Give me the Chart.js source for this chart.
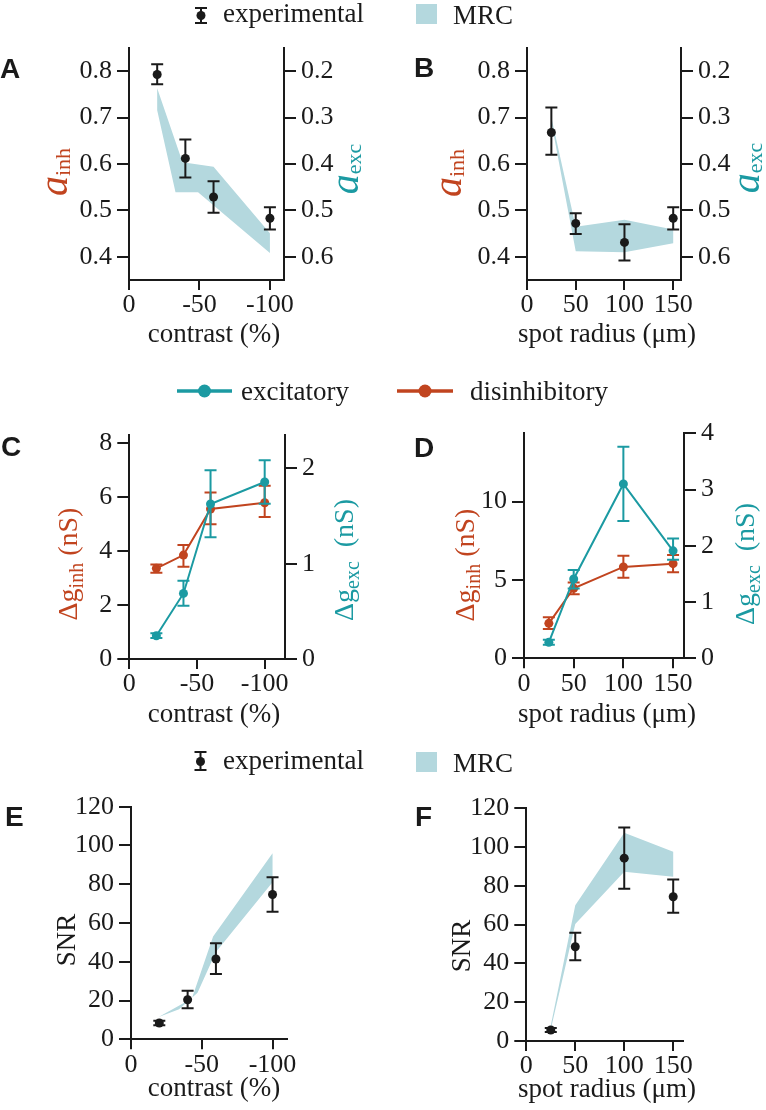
<!DOCTYPE html>
<html lang="en">
<head>
<meta charset="UTF-8">
<title>Inhibition weights, conductances and SNR</title>
<script src="https://cdn.jsdelivr.net/npm/chart.js"></script>
<style>
  body { margin: 0; background: #fff; }
  #fig { position: relative; width: 766px; height: 1110px; overflow: hidden; }
  #fig canvas { position: absolute; }
  #overlay { position: absolute; left: 0; top: 0; }
</style>
</head>
<body>
<div id="fig">
  <canvas id="panelA"></canvas>
  <canvas id="panelB"></canvas>
  <canvas id="panelC"></canvas>
  <canvas id="panelD"></canvas>
  <canvas id="panelE"></canvas>
  <canvas id="panelF"></canvas>
  <svg id="overlay" width="766" height="1110" font-family="'Liberation Serif', 'Times New Roman', serif" font-size="27" fill="#1a1a1a">
    <!-- top legend -->
    <g stroke="#1a1a1a" stroke-width="2">
      <line x1="201" y1="8" x2="201" y2="23"/><line x1="195" y1="8" x2="207" y2="8"/><line x1="195" y1="23" x2="207" y2="23"/>
    </g>
    <circle cx="201" cy="15.5" r="4.5"/>
    <text x="223" y="22">experimental</text>
    <rect x="416" y="4" width="21" height="20" fill="#b4d8de"/>
    <text x="453" y="24">MRC</text>
    <!-- middle legend -->
    <line x1="177" y1="391" x2="232" y2="391" stroke="#1b9aa2" stroke-width="3.5"/>
    <circle cx="204.5" cy="391" r="6.5" fill="#1b9aa2"/>
    <text x="241" y="400">excitatory</text>
    <line x1="397" y1="391" x2="453" y2="391" stroke="#c1441f" stroke-width="3.5"/>
    <circle cx="425" cy="391" r="6.5" fill="#c1441f"/>
    <text x="470" y="400">disinhibitory</text>
    <!-- bottom legend -->
    <g stroke="#1a1a1a" stroke-width="2">
      <line x1="200.5" y1="752" x2="200.5" y2="770"/><line x1="194.5" y1="752" x2="206.5" y2="752"/><line x1="194.5" y1="770" x2="206.5" y2="770"/>
    </g>
    <circle cx="200.5" cy="761.5" r="4.5"/>
    <text x="223" y="769">experimental</text>
    <rect x="416" y="752" width="21" height="20" fill="#b4d8de"/>
    <text x="453" y="772">MRC</text>
    <!-- panel letters -->
    <g font-family="'Liberation Sans', Arial, sans-serif" font-weight="bold" font-size="28">
      <text x="0" y="78">A</text>
      <text x="414" y="77">B</text>
      <text x="1" y="456">C</text>
      <text x="414" y="457">D</text>
      <text x="5" y="826">E</text>
      <text x="415" y="826">F</text>
    </g>
  </svg>
</div>
<script>
const RED = '#c1441f', TEAL = '#1b9aa2', BAND = '#b4d8de', INK = '#1a1a1a';
const SERIF = '"Liberation Serif", "Times New Roman", serif';
Chart.defaults.font.family = SERIF;
Chart.defaults.color = INK;

// stimulus conditions
const contrast = [-20, -40, -60, -100];
const radius = [25, 50, 100, 150];
const contrastTicks = [0, -50, -100];
const radiusTicks = [0, 50, 100, 150];

// A: a_inh vs contrast (experimental mean, lower, upper)
const aInhContrast = [0.793, 0.612, 0.529, 0.483];
const aInhContrastLo = [0.772, 0.571, 0.495, 0.459];
const aInhContrastHi = [0.815, 0.653, 0.563, 0.507];
// A: MRC band edges
const mrcAUpperX = [-20, -38, -60, -100];
const mrcAUpper = [0.763, 0.604, 0.594, 0.451];
const mrcALowerX = [-20, -33, -49, -100];
const mrcALower = [0.716, 0.539, 0.539, 0.408];

// B: a_inh vs spot radius
const aInhRadius = [0.668, 0.472, 0.431, 0.483];
const aInhRadiusLo = [0.620, 0.449, 0.392, 0.459];
const aInhRadiusHi = [0.722, 0.494, 0.470, 0.507];
const mrcBUpperX = [25, 50, 100, 150];
const mrcBUpper = [0.700, 0.465, 0.480, 0.459];
const mrcBLowerX = [25, 50, 100, 150];
const mrcBLower = [0.690, 0.412, 0.410, 0.429];

const aInhTicks = [0.4, 0.5, 0.6, 0.7, 0.8];
const aExcTicks = [0.2, 0.3, 0.4, 0.5, 0.6];

// C: conductance changes vs contrast
const gInhContrast = [3.36, 3.85, 5.56, 5.79];
const gInhContrastLo = [3.20, 3.42, 4.99, 5.26];
const gInhContrastHi = [3.50, 4.22, 6.17, 6.42];
const gExcContrast = [0.244, 0.688, 1.626, 1.857];
const gExcContrastLo = [0.22, 0.558, 1.277, 1.63];
const gExcContrastHi = [0.27, 0.82, 1.98, 2.084];
const gInhTicksC = [0, 2, 4, 6, 8];
const gExcTicksC = [0, 1, 2];

// D: conductance changes vs spot radius
const gInhRadius = [2.23, 4.47, 5.83, 6.04];
const gInhRadiusLo = [1.87, 4.08, 5.14, 5.49];
const gInhRadiusHi = [2.62, 4.83, 6.55, 6.59];
const gExcRadius = [0.284, 1.41, 3.10, 1.91];
const gExcRadiusLo = [0.24, 1.24, 2.44, 1.75];
const gExcRadiusHi = [0.33, 1.57, 3.76, 2.13];
const gInhTicksD = [0, 5, 10];
const gExcTicksD = [0, 1, 2, 3, 4];

// E: SNR vs contrast
const snrContrast = [8.4, 20.4, 41.4, 74.7];
const snrContrastLo = [7.2, 16.0, 33.7, 65.8];
const snrContrastHi = [9.6, 25.0, 49.5, 83.6];
const mrcEUpperX = [-19.5, -43, -58, -100];
const mrcEUpper = [11.5, 21, 53, 96];
const mrcELowerX = [-19.5, -34, -47, -60, -100];
const mrcELower = [11.5, 15.5, 24, 45, 81];

// F: SNR vs spot radius
const snrRadius = [5.7, 48.6, 94.3, 74.4];
const snrRadiusLo = [4.7, 41.6, 78.5, 66.1];
const snrRadiusHi = [6.7, 55.8, 110.1, 83.3];
const mrcFUpperX = [25, 50, 100, 150];
const mrcFUpper = [8, 70, 107.4, 97.6];
const mrcFLowerX = [25, 50, 100, 150];
const mrcFLower = [6, 60.3, 87.3, 84.7];

const snrTicks = [0, 20, 40, 60, 80, 100, 120];

function pts(xs, ys) {
    return xs.map((x, i) => ({x: x, y: ys[i]}));
}
// upper edge left to right, then lower edge back, closed as a shape
function bandPoints(ux, uy, lx, ly) {
    return pts(ux, uy).concat(pts(lx, ly).reverse());
}

// vertical error bars with caps, drawn under the markers
const errorBars = {
    id: 'errorBars',
    beforeDatasetDraw(chart, args) {
        const ds = chart.data.datasets[args.index];
        if (!ds.errLo) return;
        const meta = args.meta;
        const scale = chart.scales[meta.yAxisID];
        const ctx = chart.ctx;
        ctx.save();
        ctx.strokeStyle = ds.errColor;
        ctx.lineWidth = 2;
        meta.data.forEach((pt, i) => {
            const top = scale.getPixelForValue(ds.errHi[i]);
            const bot = scale.getPixelForValue(ds.errLo[i]);
            ctx.beginPath();
            ctx.moveTo(pt.x, top); ctx.lineTo(pt.x, bot);
            ctx.moveTo(pt.x - 6, top); ctx.lineTo(pt.x + 6, top);
            ctx.moveTo(pt.x - 6, bot); ctx.lineTo(pt.x + 6, bot);
            ctx.stroke();
        });
        ctx.restore();
    }
};

// axis titles with subscripts (page coordinates, baseline at x for rotated ones)
function titlePlugin(box, items) {
    return {
        id: 'richTitles',
        afterDraw(chart) {
            const ctx = chart.ctx;
            items.forEach(item => {
                ctx.save();
                ctx.translate(item.x - box.x, item.y - box.y);
                if (item.rotate) ctx.rotate(-Math.PI / 2);
                let total = 0;
                item.parts.forEach(p => { ctx.font = p.font; total += ctx.measureText(p.text).width; });
                let cx = -total / 2;
                ctx.textAlign = 'left';
                ctx.textBaseline = 'alphabetic';
                item.parts.forEach(p => {
                    ctx.font = p.font;
                    ctx.fillStyle = p.color;
                    ctx.fillText(p.text, cx, p.dy || 0);
                    cx += ctx.measureText(p.text).width;
                });
                ctx.restore();
            });
        }
    };
}

function axis(pos, min, max, ticks, extra) {
    const vertical = pos !== 'bottom';
    return Object.assign({
        type: 'linear',
        position: pos,
        min: min,
        max: max,
        afterBuildTicks: s => { s.ticks = ticks.map(v => ({value: v})); },
        grid: {display: true, drawOnChartArea: false, drawTicks: true, tickLength: vertical ? 12 : 10, color: INK, lineWidth: 2},
        border: {display: true, color: INK, width: 2},
        ticks: {color: INK, font: {family: SERIF, size: 26}, padding: vertical ? 5 : 0, maxRotation: 0, autoSkip: false}
    }, extra || {});
}

function panel(id, box, area, datasets, scales, titles) {
    const cv = document.getElementById(id);
    cv.width = box.w;
    cv.height = box.h;
    cv.style.left = box.x + 'px';
    cv.style.top = box.y + 'px';
    cv.style.width = box.w + 'px';
    cv.style.height = box.h + 'px';
    // pin the plot area to where it sits in the figure
    scales.x.afterFit = s => { s.height = box.y + box.h - area.bottom; };
    scales.y.afterFit = s => { s.width = area.left - box.x; };
    if (scales.y2) scales.y2.afterFit = s => { s.width = box.x + box.w - area.right; };
    return new Chart(cv, {
        type: 'line',
        data: {datasets: datasets},
        options: {
            responsive: false,
            animation: false,
            devicePixelRatio: 1,
            layout: {padding: {top: area.top - box.y, right: scales.y2 ? 0 : box.x + box.w - area.right, left: 0, bottom: 0}},
            scales: scales,
            plugins: {legend: {display: false}, tooltip: {enabled: false}}
        },
        plugins: [errorBars, titlePlugin(box, titles)]
    });
}

function bandSet(data) {
    return {data: data, fill: 'shape', backgroundColor: BAND, borderWidth: 0, pointRadius: 0, order: 3, yAxisID: 'y', clip: false};
}
function expSet(xs, ys, lo, hi) {
    return {data: pts(xs, ys), errLo: lo, errHi: hi, errColor: INK, showLine: false,
        pointRadius: 4.5, pointBackgroundColor: INK, pointBorderWidth: 0, order: 1, yAxisID: 'y', clip: false};
}
function lineSet(xs, ys, lo, hi, color, yAxisID, order) {
    return {data: pts(xs, ys), errLo: lo, errHi: hi, errColor: color, borderColor: color, borderWidth: 2,
        pointRadius: 4.5, pointBackgroundColor: color, pointBorderWidth: 0, tension: 0,
        order: order, yAxisID: yAxisID, clip: false};
}

const italic40 = 'italic 40px ' + SERIF, sub22 = '22px ' + SERIF;
const main28 = '28px ' + SERIF, sub20 = '20px ' + SERIF, label27 = '27px ' + SERIF;
function aTitle(x, y, sub, color) {
    return {x: x, y: y, rotate: true, parts: [
        {text: 'a', font: italic40, color: color}, {text: sub, font: sub22, color: color, dy: 3}]};
}
function gTitle(x, y, sub, gap, color) {
    return {x: x, y: y, rotate: true, parts: [
        {text: 'Δg', font: main28, color: color}, {text: sub, font: sub20, color: color, dy: 6},
        {text: gap + '(nS)', font: main28, color: color}]};
}
function plainTitle(x, y, text, rotate) {
    return {x: x, y: y, rotate: rotate, parts: [{text: text, font: label27, color: INK}]};
}
const contrastLabel = 'contrast (%)', radiusLabel = 'spot radius (μm)';

// A
panel('panelA', {x: 20, y: 24, w: 360, h: 326}, {left: 129, top: 48, right: 284, bottom: 280},
    [bandSet(bandPoints(mrcAUpperX, mrcAUpper, mrcALowerX, mrcALower)),
     expSet(contrast, aInhContrast, aInhContrastLo, aInhContrastHi)],
    {x: axis('bottom', -110, 0, contrastTicks, {reverse: true}),
     y: axis('left', 0.35, 0.85, aInhTicks),
     y2: axis('right', 0.15, 0.65, aExcTicks, {reverse: true})},
    [aTitle(67, 172, 'inh', RED), aTitle(358, 169, 'exc', TEAL), plainTitle(214, 342, contrastLabel, false)]);

// B
panel('panelB', {x: 400, y: 24, w: 366, h: 326}, {left: 527, top: 48, right: 681, bottom: 280},
    [bandSet(bandPoints(mrcBUpperX, mrcBUpper, mrcBLowerX, mrcBLower)),
     expSet(radius, aInhRadius, aInhRadiusLo, aInhRadiusHi)],
    {x: axis('bottom', 0, 158, radiusTicks),
     y: axis('left', 0.35, 0.85, aInhTicks),
     y2: axis('right', 0.15, 0.65, aExcTicks, {reverse: true})},
    [aTitle(461, 173, 'inh', RED), aTitle(759, 168, 'exc', TEAL), plainTitle(607, 342, radiusLabel, false)]);

// C
panel('panelC', {x: 20, y: 410, w: 360, h: 320}, {left: 129.3, top: 435, right: 285, bottom: 659},
    [lineSet(contrast, gInhContrast, gInhContrastLo, gInhContrastHi, RED, 'y', 2),
     lineSet(contrast, gExcContrast, gExcContrastLo, gExcContrastHi, TEAL, 'y2', 1)],
    {x: axis('bottom', -115, 0, contrastTicks, {reverse: true}),
     y: axis('left', 0, 8.3, gInhTicksC),
     y2: axis('right', 0, 2.35, gExcTicksC)},
    [gTitle(77, 564, 'inh', ' ', RED), gTitle(353, 560, 'exc', '  ', TEAL), plainTitle(214, 722, contrastLabel, false)]);

// D
panel('panelD', {x: 400, y: 410, w: 366, h: 320}, {left: 524, top: 433.3, right: 684, bottom: 658.3},
    [lineSet(radius, gInhRadius, gInhRadiusLo, gInhRadiusHi, RED, 'y', 2),
     lineSet(radius, gExcRadius, gExcRadiusLo, gExcRadiusHi, TEAL, 'y2', 1)],
    {x: axis('bottom', 0, 161, radiusTicks),
     y: axis('left', 0, 14.36, gInhTicksD),
     y2: axis('right', 0, 4, gExcTicksD)},
    [gTitle(474, 565, 'inh', ' ', RED), gTitle(754, 564, 'exc', '  ', TEAL), plainTitle(607, 722, radiusLabel, false)]);

// E
panel('panelE', {x: 20, y: 785, w: 360, h: 325}, {left: 131, top: 806.7, right: 286.7, bottom: 1039.3},
    [bandSet(bandPoints(mrcEUpperX, mrcEUpper, mrcELowerX, mrcELower)),
     expSet(contrast, snrContrast, snrContrastLo, snrContrastHi)],
    {x: axis('bottom', -110, 0, contrastTicks, {reverse: true}),
     y: axis('left', 0, 120, snrTicks)},
    [plainTitle(75, 940, 'SNR', true), plainTitle(214, 1096, contrastLabel, false)]);

// F
panel('panelF', {x: 400, y: 785, w: 366, h: 325}, {left: 526.3, top: 808.3, right: 683, bottom: 1041},
    [bandSet(bandPoints(mrcFUpperX, mrcFUpper, mrcFLowerX, mrcFLower)),
     expSet(radius, snrRadius, snrRadiusLo, snrRadiusHi)],
    {x: axis('bottom', 0, 160, radiusTicks),
     y: axis('left', 0, 120, snrTicks)},
    [plainTitle(470, 946, 'SNR', true), plainTitle(607, 1097, radiusLabel, false)]);
</script>
</body>
</html>
